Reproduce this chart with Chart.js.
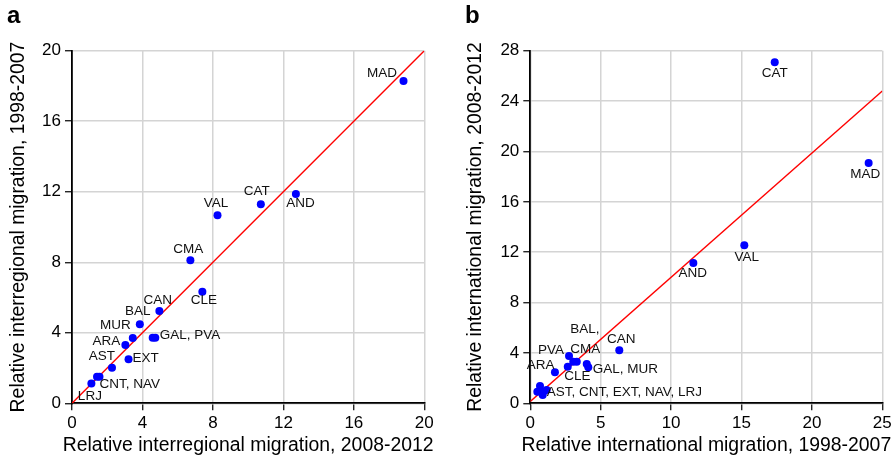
<!DOCTYPE html>
<html lang="en">
  <head>
    <meta charset="UTF-8" />
    <title>Relative migration, Spanish regions</title>
    <script src="https://cdn.jsdelivr.net/npm/chart.js"></script>
    <style>
      body {
        margin: 0;
        background: #ffffff;
        font-family: "Liberation Sans", Arial, Helvetica, sans-serif;
      }
      #wrap {
        position: relative;
        width: 896px;
        height: 459px;
      }
      .panel {
        position: absolute;
        top: 0;
        width: 448px;
        height: 459px;
      }
      .letter {
        position: absolute;
        top: 3px;
        font-size: 24px;
        line-height: 24px;
        font-weight: bold;
        color: #000;
      }
    </style>
  </head>
  <body>
    <div id="wrap">
      <div class="panel" style="left: 0"><canvas id="chartA"></canvas></div>
      <div class="panel" style="left: 448px"><canvas id="chartB"></canvas></div>
      <div class="letter" style="left: 7px">a</div>
      <div class="letter" style="left: 465px">b</div>
    </div>

    <script>
      // data
      const regions = ["MAD", "AND", "CAT", "VAL", "CMA", "CLE", "CAN", "BAL", "MUR",
                       "ARA", "GAL", "PVA", "EXT", "AST", "CNT", "NAV", "LRJ"];

      // panel a: interregional
      const interregional2008 = [18.82, 12.71, 10.72, 8.26, 6.72, 7.40, 4.96, 3.85, 3.45,
                                 3.03, 4.58, 4.73, 3.21, 2.27, 1.42, 1.56, 1.10];
      const interregional1998 = [18.28, 11.87, 11.29, 10.66, 8.11, 6.33, 5.24, 4.48, 3.70,
                                 3.31, 3.72, 3.72, 2.50, 2.02, 1.51, 1.51, 1.13];
      const fitLineA = [[0, 0], [20, 20]];

      // panel b: international
      const international1998 = [24.03, 11.58, 17.36, 15.20, 3.30, 2.66, 6.32, 3.05, 4.12,
                                 1.75, 4.01, 2.75, 0.92, 0.69, 0.50, 0.88, 1.16];
      const international2008 = [19.09, 11.14, 27.08, 12.55, 3.30, 2.91, 4.21, 3.30, 2.86,
                                 2.46, 3.12, 3.76, 0.92, 1.37, 0.92, 0.66, 1.06];
      const fitLineB = [[0, 0.15], [25, 24.8]];

      // point labels (text and the region they sit next to)
      const labelTextA = ["MAD", "AND", "CAT", "VAL", "CMA", "CLE", "CAN", "BAL", "MUR",
                          "ARA", "GAL, PVA", "EXT", "AST", "CNT, NAV", "LRJ"];
      const labelAnchorA = ["MAD", "AND", "CAT", "VAL", "CMA", "CLE", "CAN", "BAL", "MUR",
                            "ARA", "PVA", "EXT", "AST", "NAV", "LRJ"];
      const labelTextB = ["CAT", "MAD", "VAL", "AND", "CAN", "BAL,\nCMA", "PVA", "ARA",
                          "CLE", "GAL, MUR", "AST, CNT, EXT, NAV, LRJ"];
      const labelAnchorB = ["CAT", "MAD", "VAL", "AND", "CAN", "CMA", "PVA", "ARA",
                            "CLE", "MUR", "LRJ"];

      const ticksA = {x: [0, 20, 4], y: [0, 20, 4]};
      const ticksB = {x: [0, 25, 5], y: [0, 28, 4]};

      // label placement: [align, dx, dy] in pixels from the dot
      const placeA = {
        "MAD": ["right", -6.5, -8],
        "AND": ["center", 4.5, 9.5],
        "CAT": ["center", -4, -12.5],
        "VAL": ["center", -1.5, -12],
        "CMA": ["center", -2, -11],
        "CLE": ["center", 1.5, 8.5],
        "CAN": ["center", -1.5, -11],
        "BAL": ["center", -2, -13],
        "MUR": ["right", -2, -13],
        "ARA": ["right", -5, -4],
        "GAL, PVA": ["left", 4.5, -2.5],
        "EXT": ["left", 4, -1],
        "AST": ["right", 3, -11.5],
        "CNT, NAV": ["left", 0, 7.5],
        "LRJ": ["center", -1.5, 13],
      };
      const placeB = {
        "CAT": ["center", 0, 10.5],
        "MAD": ["center", -3.5, 11],
        "VAL": ["center", 2.5, 12.5],
        "AND": ["center", -0.5, 10.5],
        "CAN": ["center", 2, -11],
        "BAL,\nCMA": ["left", -6.5, -32],
        "PVA": ["right", -5, -5.5],
        "ARA": ["right", -0.5, -7.5],
        "CLE": ["left", -3.5, 10],
        "GAL, MUR": ["left", 4.5, 1.5],
        "AST, CNT, EXT, NAV, LRJ": ["left", 0, 2],
      };

      const FONT = "'Liberation Sans', Arial, Helvetica, sans-serif";

      // point labels + axis titles (drawn by hand so they are not squeezed to the plot width)
      const pointLabels = {
        id: "pointLabels",
        afterDatasetsDraw(chart, args, opts) {
          const ctx = chart.ctx;
          const meta = chart.getDatasetMeta(0);
          const area = chart.chartArea;
          ctx.save();
          ctx.fillStyle = "#111";
          ctx.font = "13.5px " + FONT;
          ctx.textBaseline = "middle";
          opts.texts.forEach((text, i) => {
            const idx = regions.indexOf(opts.anchors[i]);
            const pt = meta.data[idx];
            const [align, dx, dy] = opts.place[text];
            ctx.textAlign = align;
            text.split("\n").forEach((line, j) => {
              ctx.fillText(line, pt.x + dx, pt.y + dy + j * 19.5);
            });
          });

          ctx.fillStyle = "#000";
          ctx.font = "19.4px " + FONT;
          ctx.textAlign = "center";
          ctx.textBaseline = "alphabetic";
          ctx.fillText(opts.xTitle, (area.left + area.right) / 2, 451);
          ctx.translate(opts.yTitleX, (area.top + area.bottom) / 2);
          ctx.rotate(-Math.PI / 2);
          ctx.fillText(opts.yTitle, 0, 0);
          ctx.restore();
        },
      };

      function makeChart(id, xs, ys, fit, ticks, xTitle, yTitle, layout, texts, anchors, place) {
        const axis = (range, isX) => ({
          type: "linear",
          min: range[0],
          max: range[1],
          ticks: {
            stepSize: range[2],
            color: "#000",
            font: {family: FONT, size: 17},
            padding: isX ? 3 : 4,
          },
          grid: {
            color: "#d4d4d4",
            lineWidth: 1.5,
            tickColor: "#000",
            tickLength: 7,
            tickWidth: 1.2,
          },
          border: {color: "#000", width: 1.8},
          title: {display: false},
          afterFit: scale => {
            if (isX) scale.height = layout.xHeight;
            else scale.width = layout.yWidth;
          },
        });

        return new Chart(document.getElementById(id), {
          type: "scatter",
          data: {
            datasets: [
              {
                data: xs.map((x, i) => ({x: x, y: ys[i]})),
                backgroundColor: "#0000ff",
                borderWidth: 0,
                pointRadius: 4,
              },
              {
                type: "line",
                data: fit.map(p => ({x: p[0], y: p[1]})),
                borderColor: "#ff0000",
                borderWidth: 1.4,
                pointRadius: 0,
                fill: false,
              },
            ],
          },
          options: {
            responsive: true,
            maintainAspectRatio: false,
            animation: false,
            layout: {padding: {left: 0, top: 50.7, right: layout.right, bottom: 0}},
            scales: {
              x: axis(ticks.x, true),
              y: axis(ticks.y, false),
            },
            plugins: {
              legend: {display: false},
              tooltip: {enabled: false},
              pointLabels: {
                texts: texts,
                anchors: anchors,
                place: place,
                xTitle: xTitle,
                yTitle: yTitle,
                yTitleX: layout.yTitleX,
              },
            },
          },
          plugins: [pointLabels],
        });
      }

      makeChart("chartA", interregional2008, interregional1998, fitLineA, ticksA,
        "Relative interregional migration, 2008-2012",
        "Relative interregional migration, 1998-2007",
        {yWidth: 72, xHeight: 55.7, right: 23.7, yTitleX: 24},
        labelTextA, labelAnchorA, placeA);

      makeChart("chartB", international1998, international2008, fitLineB, ticksB,
        "Relative international migration, 1998-2007",
        "Relative international migration, 2008-2012",
        {yWidth: 82.3, xHeight: 55.7, right: 13.7, yTitleX: 33.3},
        labelTextB, labelAnchorB, placeB);
    </script>
  </body>
</html>
